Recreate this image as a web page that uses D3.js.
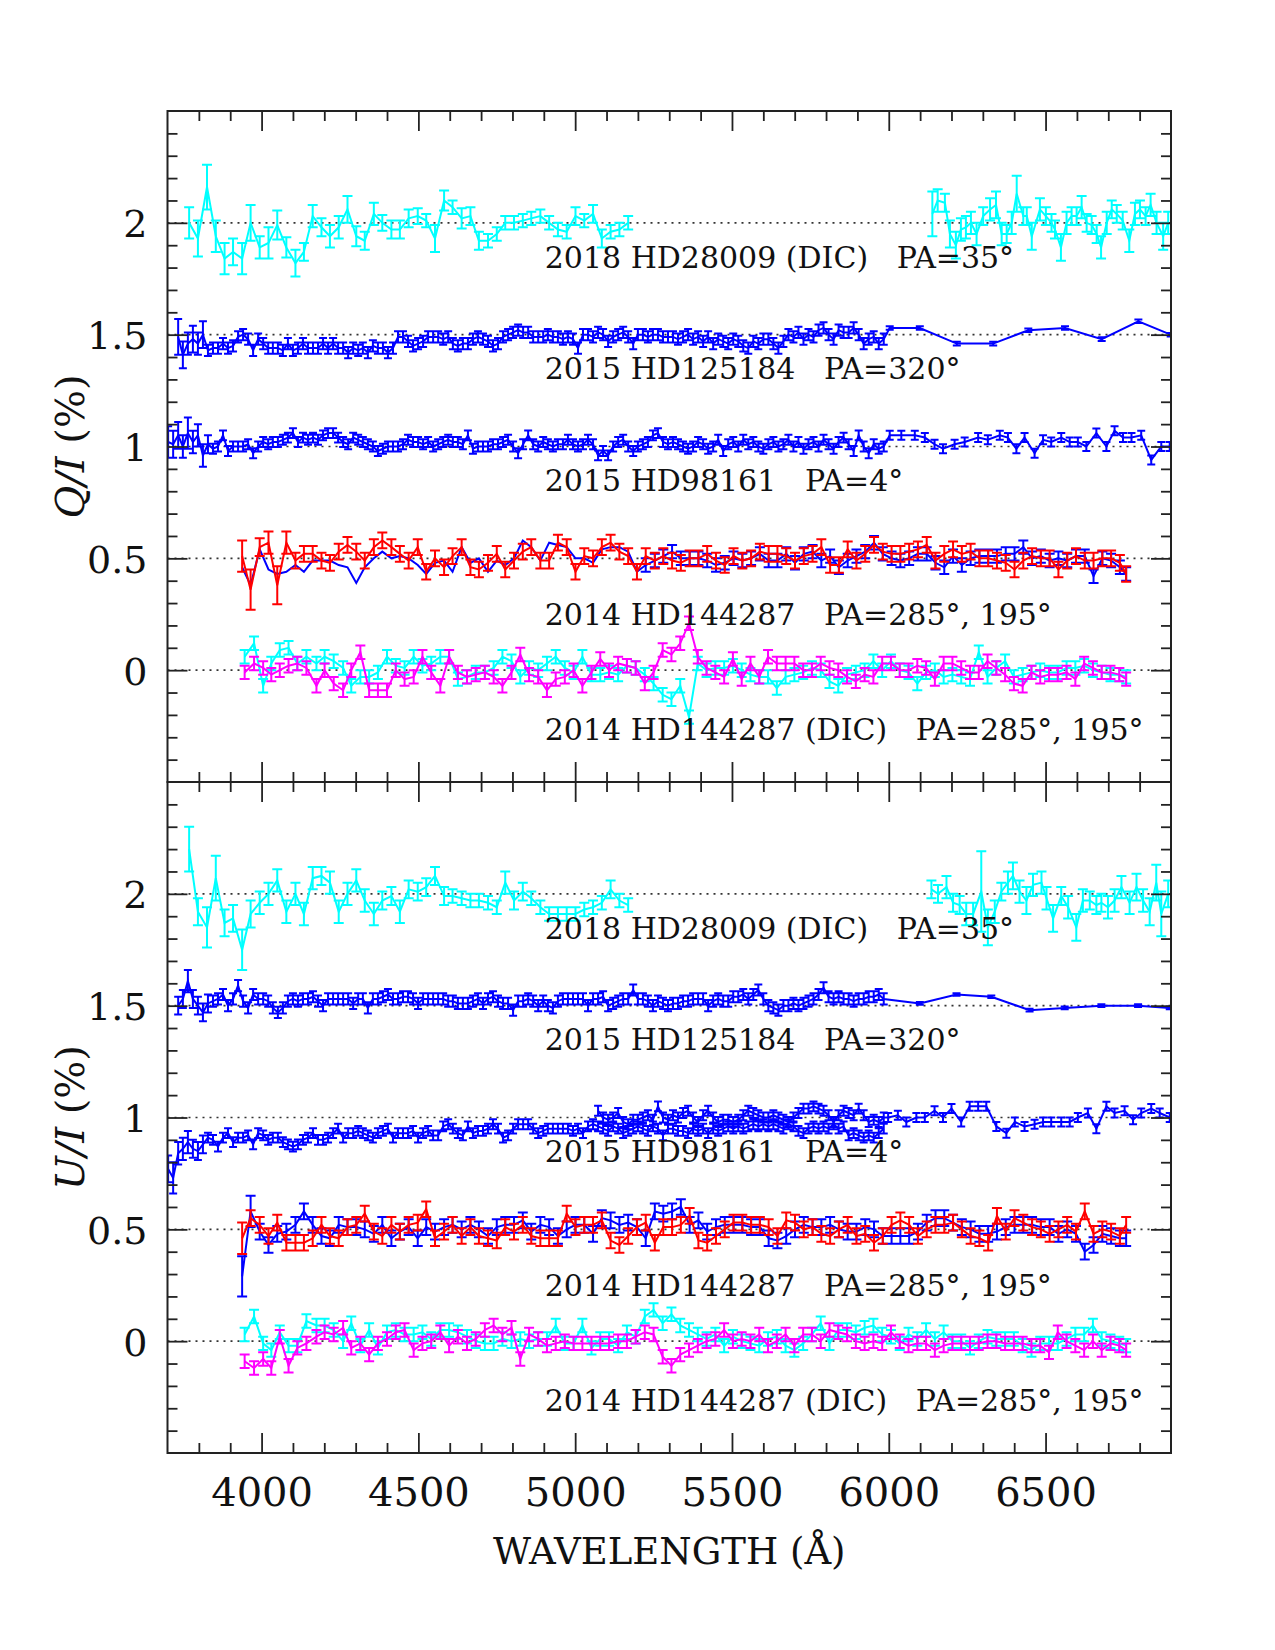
<!DOCTYPE html>
<html>
<head>
<meta charset="utf-8">
<script src="https://cdn.jsdelivr.net/npm/d3@7"></script>
<style>
  body { margin: 0; background: #fff; }
  #wrapper svg { display: block; }
  text { font-family: "DejaVu Serif", serif; fill: #111; white-space: pre; }
</style>
</head>
<body>
<div id="wrapper"></div>
<script>

// ---- wavelength grids (Angstrom) ----

const lamFine = [
  3702,3718,3734,3749,3765,3781,3797,3813,3829,3845,
  3861,3877,3893,3909,3925,3941,3957,3973,3989,4005,
  4021,4036,4052,4068,4084,4100,4116,4132,4148,4164,
  4180,4196,4212,4228,4244,4260,4276,4292,4308,4323,
  4339,4355,4371,4387,4403,4419,4435,4451,4467,4483,
  4499,4515,4531,4547,4563,4579,4595,4610,4626,4642,
  4658,4674,4690,4706,4722,4738,4754,4770,4786,4802,
  4818,4834,4850,4866,4882,4898,4913,4929,4945,4961,
  4977,4993,5009,5025,5041,5057,5073,5089,5105,5121,
  5137,5153,5169,5185,5200,5216,5232,5248,5264,5280,
  5296,5312,5328,5344,5360,5376,5392,5408,5424,5440,
  5456,5472,5488,5504,5520,5536,5552,5568,5584,5600,
  5616,5632,5648,5664,5680,5696,5712,5728,5744,5760,
  5776,5792,5808,5824,5840,5856,5872,5888,5904,5920,
  5936,5952,5968,5984]

const lamHD28009a = [
  3769,3797,3826,3854,3882,3909,3938,3965,3994,4022,
  4050,4079,4108,4135,4163,4191,4218,4246,4274,4302,
  4329,4358,4385,4414,4441,4469,4498,4525,4553,4582,
  4609,4638,4666,4693,4722,4750,4777,4805,4833,4860,
  4889,4917,4945,4973,5001,5029,5057,5085,5113,5141,
  5169]
const lamHD28009Qb = [
  6139,6156,6179,6195,6214,6230,6246,6262,6280,6301,
  6323,6342,6360,6376,6392,6408,6429,6440,6456,6482,
  6501,6519,6530,6549,6567,6583,6599,6615,6631,6647,
  6663,6677,6695,6711,6727,6746,6767,6785,6801,6819,
  6835,6854,6875,6891]
const lamHD28009Ub = [
  6136,6157,6184,6205,6226,6247,6269,6295,6316,6338,
  6359,6380,6396,6417,6439,6460,6487,6503,6524,6550,
  6572,6598,6619,6641,6662,6678,6699,6720,6742,6768,
  6790,6811,6832,6853,6869,6891]

const lamHD144287 = [
  3938,3965,3994,4022,4050,4079,4108,4135,4163,4191,
  4218,4246,4274,4302,4329,4358,4385,4414,4441,4469,
  4498,4525,4553,4582,4609,4638,4666,4693,4722,4750,
  4777,4805,4833,4860,4889,4917,4945,4973,5001,5029,
  5057,5085,5113,5141,5169,5197,5225,5254,5281,
  5309,5337,5365,5393,5421,5449,5477,5505,5533,5561,
  5589,5617,5645,5673,5701,5729,5757,5785,5813,5841,
  5869,5897,5925,5953,5981,6009,6037,6065,6093,6121,
  6149,6177,6205,6233,6261,6289,6317,6345,6373,6401,
  6429,6457,6485,6513,6541,6569,6597,6625,6653,6681,
  6709,6737,6757]

const lamDIC = [
  3946,3976,4005,4031,4058,4086,4114,4143,4175,4201,
  4230,4260,4286,4315,4343,4371,4400,4428,4456,4485,
  4513,4541,4570,4598,4626,4655,4683,4712,4740,4768,
  4797,4825,4853,4882,4910,4938,4967,4995,5023,5052,
  5080,5108,5137,5165,5193,5222,5250,5279,5307,5335,
  5363,5391,5419,5447,5475,5503,5531,5559,5587,5615,
  5643,5671,5699,5727,5755,5783,5811,5839,5867,5895,
  5923,5951,5979,6007,6035,6063,6091,6119,6147,6175,
  6203,6231,6259,6287,6315,6343,6371,6399,6427,6455,
  6483,6511,6539,6567,6595,6623,6651,6679,6707,6735,
  6757]

const lamHD125184Qs = [6003,6099,6217,6333,6445,6562,6679,6796,6899]
const lamHD125184Us = [6099,6216,6327,6449,6561,6678,6795,6896]
const lamHD98161Qs = [
  6003,6040,6083,6115,6146,6173,6210,6242,6285,6316,
  6354,6380,6407,6433,6465,6492,6518,6550,6577,6603,
  6630,6662,6694,6720,6747,6774,6805,6837,6869,6896]
const lamHD98161Us = [
  5998,6029,6056,6088,6115,6146,6173,6200,6231,6258,
  6285,6311,6343,6375,6402,6433,6465,6492,6518,6550,
  6577,6603,6635,6662,6694,6720,6752,6779,6805,6837,
  6864,6896]

// ---- Q/I (%) ----

const qHD28009a = [
  2.00,1.93,2.16,1.94,1.84,1.87,1.84,2.00,1.89,1.91,
  1.99,1.89,1.82,1.87,2.03,1.98,1.94,1.98,2.06,1.94,
  1.92,2.04,2.00,1.97,1.97,2.02,2.03,2.01,1.93,2.10,
  2.07,2.02,2.03,1.92,1.92,1.95,2.00,2.00,2.01,2.02,
  2.03,2.00,1.97,1.96,2.03,2.01,2.04,1.93,1.96,1.97,
  2.00]
const qErrHD28009a = [
  .07,.08,.10,.07,.07,.06,.07,.08,.05,.07,
  .065,.045,.06,.04,.05,.04,.05,.05,.06,.045,
  .04,.05,.035,.04,.04,.04,.035,.03,.06,.045,
  .03,.045,.04,.04,.03,.03,.03,.03,.03,.03,
  .03,.03,.03,.03,.04,.03,.04,.04,.03,.03,
  .03]
const qHD28009b = [
  2.04,2.10,2.09,1.95,1.90,1.97,1.98,2.00,1.95,2.03,
  2.06,2.08,1.95,1.95,2.00,2.13,2.03,2.03,1.94,2.06,
  2.03,2.00,1.97,1.89,2.00,2.03,2.03,2.07,2.00,1.99,
  1.95,1.89,2.00,2.06,2.04,2.01,1.92,2.04,2.06,2.03,
  2.08,2.00,1.94,2.00]
const qErrHD28009b = [
  .10,.05,.04,.06,.06,.05,.05,.05,.05,.04,
  .05,.06,.05,.04,.05,.08,.04,.04,.06,.05,
  .04,.04,.04,.06,.05,.04,.04,.05,.04,.04,
  .04,.05,.05,.04,.04,.04,.05,.05,.04,.04,
  .05,.05,.06,.05]

const qHD125184 = [
  null,null,
  1.49,1.41,1.46,1.48,1.46,1.50,1.43,1.44,1.44,1.46,
  1.44,1.45,1.49,1.50,1.48,1.43,1.48,1.46,1.44,1.44,
  1.44,1.43,1.46,1.43,1.44,1.46,1.44,1.44,1.44,1.46,
  1.44,1.46,1.44,1.44,1.42,1.44,1.43,1.44,1.42,1.45,
  1.44,1.44,1.42,1.44,1.49,1.49,1.47,1.45,1.46,1.47,
  1.49,1.49,1.49,1.48,1.49,1.46,1.45,1.46,1.46,1.48,
  1.49,1.48,1.47,1.45,1.46,1.49,1.50,1.51,1.52,1.51,
  1.51,1.49,1.49,1.49,1.50,1.49,1.49,1.48,1.49,1.48,
  1.44,1.50,1.50,1.49,1.51,1.50,1.47,1.49,1.50,1.51,
  1.49,1.46,1.50,1.50,1.49,1.50,1.50,1.49,
  1.49,
  1.49,1.48,1.49,1.50,1.48,1.49,1.47,1.49,1.46,1.48,
  1.47,1.46,1.48,1.47,1.45,1.44,1.47,1.46,1.48,1.48,
  1.46,1.44,1.47,1.50,1.49,1.51,1.48,1.50,1.49,1.52,
  1.53,1.50,1.48,1.52,1.51,1.51,1.53,1.50,1.46,1.48,
  1.49,1.46,1.48]
const qHD125184s = [1.53,1.53,1.46,1.46,1.52,1.53,1.48,1.56,1.50]

const qHD98161 = [
  1.02,1.01,1.05,1.00,1.06,1.02,1.05,0.96,1.01,0.99,
  1.00,1.05,0.98,1.00,1.00,1.00,1.01,0.97,1.00,1.02,
  1.01,1.02,1.02,1.03,1.04,1.06,1.02,1.04,1.03,1.04,
  1.03,1.05,1.06,1.06,1.04,1.02,1.01,1.04,1.03,1.02,
  1.01,1.00,0.98,0.99,1.00,1.00,1.00,1.01,1.03,1.02,
  1.02,1.01,1.02,1.00,1.01,1.02,1.03,1.02,1.02,1.01,
  1.05,0.99,1.00,1.00,1.00,1.01,1.01,1.02,1.03,1.00,
  0.97,1.01,1.05,1.01,1.00,1.02,1.01,1.00,1.01,1.01,
  1.03,1.01,1.00,1.01,1.03,1.01,0.96,0.98,0.96,1.00,
  1.02,1.03,1.00,0.98,1.00,1.01,1.02,1.05,1.06,1.02,
  1.01,
  1.02,1.01,1.00,0.99,1.00,1.02,1.01,0.99,1.00,1.03,
  0.98,1.01,1.02,1.00,1.03,1.01,1.02,1.00,0.99,1.01,
  1.02,1.00,1.01,1.03,1.00,1.02,0.99,1.01,1.02,1.00,
  1.03,1.01,0.99,1.02,1.04,1.01,0.98,1.05,1.00,0.97,
  1.01,0.99,1.00]
const qHD98161s = [
  1.05,1.05,1.05,1.04,1.01,0.99,1.01,1.02,1.04,1.03,
  1.05,1.04,0.99,1.04,0.97,1.03,1.02,1.04,1.02,1.02,
  1.00,1.06,1.00,1.07,1.04,1.04,1.05,0.94,1.00,1.00]

const qHD144287red = [
  0.51,0.36,0.55,0.57,0.38,0.57,0.49,0.52,0.52,0.49,
  0.48,0.53,0.56,0.53,0.49,0.55,0.58,0.55,0.52,0.49,
  0.55,0.44,0.50,0.46,0.51,0.55,0.46,0.45,0.48,0.52,
  0.45,0.49,0.53,0.55,0.49,0.49,0.57,0.55,0.44,0.51,
  0.50,0.55,0.57,0.53,0.51,0.44,0.51,0.49,0.51,
  0.49,0.48,0.50,0.50,0.52,0.49,0.47,0.51,0.49,0.50,
  0.53,0.52,0.52,0.51,0.49,0.51,0.52,0.55,0.47,0.47,
  0.54,0.49,0.52,0.56,0.53,0.52,0.52,0.53,0.54,0.56,
  0.49,0.52,0.54,0.52,0.53,0.50,0.50,0.49,0.48,0.45,
  0.49,0.51,0.50,0.50,0.45,0.49,0.51,0.49,0.49,0.50,
  0.50,0.48,0.43]
const qHD144287blue = [
  0.46,0.38,0.54,0.45,0.43,0.44,0.47,0.44,0.49,0.49,
  0.49,0.47,0.46,0.39,0.46,0.50,0.53,0.50,0.51,0.50,
  0.47,0.43,0.48,0.49,0.44,0.55,0.48,0.50,0.44,0.49,
  0.47,0.50,0.58,0.55,0.49,0.57,0.56,0.55,0.50,0.50,
  0.48,0.54,0.55,0.55,0.53,0.44,0.47,0.49,0.51,
  0.53,0.50,0.50,0.50,0.49,0.47,0.48,0.50,0.49,0.50,
  0.52,0.49,0.49,0.52,0.48,0.52,0.53,0.49,0.51,0.46,
  0.49,0.51,0.53,0.57,0.52,0.50,0.49,0.50,0.52,0.52,
  0.48,0.46,0.51,0.47,0.50,0.51,0.51,0.51,0.52,0.52,
  0.55,0.50,0.51,0.49,0.50,0.49,0.51,0.51,0.42,0.50,
  0.49,0.46,0.43]

const qDICcyan = [
  0.06,0.12,-0.07,0.03,0.09,0.10,0.03,0.06,0.03,0.06,
  0.04,0.01,-0.07,-0.03,-0.03,-0.01,0.06,0.02,0.01,0.06,
  0.02,0.03,0.06,0.06,-0.04,-0.03,-0.01,-0.01,0.01,0.06,
  0.04,-0.03,0.01,0.00,0.03,0.06,0.01,-0.01,0.06,-0.02,
  -0.02,-0.01,-0.02,0.02,0.01,-0.02,-0.06,-0.11,-0.13,-0.07,
  -0.21,0.03,0.00,0.01,0.01,0.02,0.00,-0.02,-0.03,-0.03,
  -0.08,-0.03,-0.02,-0.01,0.01,0.00,-0.05,-0.07,-0.02,-0.01,
  0.00,0.04,0.00,0.04,0.00,-0.01,-0.06,-0.01,0.00,-0.03,
  -0.02,-0.03,-0.04,0.08,-0.03,0.01,0.04,-0.03,-0.02,-0.01,
  0.00,-0.01,-0.01,0.01,0.01,0.02,0.00,-0.01,-0.02,-0.02,
  -0.03]
const qDICmagenta = [
  -0.01,0.03,0.01,-0.02,0.00,0.02,0.03,0.01,-0.07,0.00,
  -0.06,-0.09,0.00,0.08,-0.09,-0.09,-0.09,0.00,-0.04,-0.03,
  0.06,-0.01,-0.07,0.06,-0.01,-0.03,-0.02,-0.01,-0.03,-0.07,
  -0.01,0.07,-0.02,-0.03,-0.09,-0.04,-0.03,0.00,-0.07,-0.01,
  0.05,0.00,0.03,0.02,0.01,-0.06,-0.01,0.09,0.07,0.12,
  0.21,0.06,0.01,-0.01,-0.03,0.05,-0.04,0.03,-0.03,0.06,
  0.03,0.03,0.03,0.00,0.00,0.03,0.01,0.00,-0.03,-0.05,
  -0.02,-0.03,0.03,0.03,0.00,0.00,0.02,0.01,-0.04,0.03,
  0.03,0.01,-0.01,-0.01,0.04,0.01,-0.02,-0.06,-0.07,-0.01,
  -0.03,-0.02,-0.02,-0.01,-0.04,0.03,0.01,-0.01,-0.01,-0.02,
  -0.04]

// ---- U/I (%) ----

const uHD28009a = [
  2.20,1.92,1.85,2.07,1.87,1.89,1.75,1.91,1.96,2.00,
  2.06,1.92,2.00,1.91,2.07,2.08,2.05,1.92,2.00,2.06,
  1.97,1.91,1.97,1.99,1.92,2.02,2.01,2.03,2.08,1.99,
  1.99,1.98,1.97,1.97,1.96,1.94,2.05,1.97,2.01,1.98,
  1.94,1.91,1.91,1.91,1.91,1.93,1.94,1.96,2.02,1.97,
  1.95]
const uErrHD28009a = [
  .10,.06,.09,.10,.06,.06,.09,.06,.05,.05,
  .05,.05,.05,.05,.05,.04,.05,.05,.05,.05,
  .05,.05,.04,.04,.05,.04,.04,.04,.04,.04,
  .03,.03,.03,.03,.03,.03,.05,.04,.04,.03,
  .03,.03,.03,.03,.03,.03,.03,.03,.04,.03,
  .03]
const uHD28009b = [
  2.02,2.00,2.03,1.96,1.95,1.91,1.91,2.01,1.85,1.92,
  2.01,2.05,2.08,2.01,1.97,2.04,2.05,1.98,1.89,1.99,
  1.94,1.85,1.97,1.97,1.95,1.96,1.94,1.97,2.03,1.96,
  2.03,1.97,1.92,2.05,1.91,2.00]
const uErrHD28009b = [
  .04,.04,.05,.04,.04,.05,.05,.18,.08,.05,
  .04,.05,.06,.05,.06,.05,.05,.05,.06,.04,
  .05,.06,.05,.04,.04,.04,.05,.05,.05,.05,
  .06,.05,.06,.08,.10,.06]

const uHD125184 = [
  null,null,
  1.50,1.53,1.61,1.53,1.50,1.47,1.51,1.52,1.53,1.55,
  1.50,1.53,1.59,1.52,1.49,1.55,1.53,1.53,1.52,1.49,
  1.47,1.49,1.52,1.53,1.52,1.53,1.53,1.54,1.52,1.50,
  1.53,1.53,1.53,1.53,1.53,1.51,1.53,1.53,1.49,1.53,
  1.53,1.54,1.55,1.53,1.53,1.54,1.54,1.53,1.51,1.53,
  1.53,1.53,1.53,1.53,1.52,1.52,1.51,1.51,1.51,1.52,
  1.53,1.51,1.53,1.54,1.52,1.51,1.51,1.48,1.52,1.52,
  1.53,1.52,1.50,1.52,1.50,1.49,1.52,1.53,1.53,1.53,
  1.53,1.53,1.50,1.53,1.53,1.54,1.50,1.51,1.52,1.53,
  1.53,1.57,1.53,1.53,1.52,1.50,1.52,1.51,
  1.50,1.51,1.51,1.52,1.52,1.53,1.53,1.53,1.50,1.52,
  1.53,1.52,1.52,1.54,1.54,1.55,1.53,1.55,1.57,1.53,
  1.50,1.49,1.48,1.50,1.50,1.51,1.50,1.51,1.52,1.53,
  1.55,1.58,1.54,1.53,1.54,1.53,1.53,1.52,1.53,1.53,
  1.54,1.54,1.55,1.53]
const uHD125184s = [1.51,1.55,1.54,1.48,1.49,1.50,1.50,1.49]

const uHD98161 = [
  0.77,0.73,0.84,0.86,0.89,0.86,0.85,0.88,0.91,0.90,
  0.87,0.91,0.93,0.89,0.91,0.91,0.92,0.88,0.93,0.92,
  0.90,0.91,0.91,0.89,0.88,0.87,0.88,0.90,0.91,0.93,
  0.90,0.90,0.91,0.93,0.95,0.91,0.93,0.93,0.94,0.93,
  0.92,0.91,0.93,0.94,0.95,0.91,0.93,0.93,0.93,0.94,
  0.91,0.93,0.94,0.92,0.92,0.96,0.97,0.95,0.93,0.92,
  0.96,0.93,0.94,0.94,0.95,0.97,0.95,0.91,0.92,0.95,
  0.97,0.97,0.97,0.95,0.93,0.94,0.95,0.95,0.95,0.95,
  0.95,0.94,0.95,0.93,0.96,0.97,0.96,0.95,0.94,0.96,
  0.95,0.93,0.94,0.95,0.96,0.95,0.94,0.96,0.95,0.92,
  0.95,0.95,0.94,0.94,0.93,0.95,0.94,0.95,0.93,0.95,
  0.94,0.95,0.96,0.95,0.96,0.95,0.96,0.97,0.96,0.97,
  0.96,0.97,0.96,0.95,0.97,0.96,0.94,0.93,0.95,0.96,
  0.95,0.96,0.95,0.97,0.95,0.96,0.92,0.93,0.92,0.91,
  0.92,0.91,0.93,0.95]
// second (upper) set of HD98161 bins, starting at lamFine[86]
const uHD98161b = [
  1.03,1.00,0.99,1.00,1.02,0.98,0.97,0.99,0.99,1.00,
  1.01,0.99,1.05,1.00,0.99,
  1.01,1.00,1.02,1.03,1.00,0.98,1.01,1.03,1.00,0.98,
  0.99,0.99,0.98,0.99,1.01,1.03,1.02,1.01,1.00,1.00,
  1.01,1.00,0.99,0.98,1.00,1.02,1.04,1.04,1.05,1.04,
  1.03,1.01,0.98,1.01,1.03,1.02,1.01,1.04,1.01,0.98,
  0.99,0.98,1.00]
const uHD98161s = [
  1.00,1.01,0.98,1.00,1.00,1.03,1.00,1.04,0.98,1.05,
  1.05,1.05,0.96,0.93,0.98,0.96,0.97,0.98,0.98,0.98,
  0.98,1.00,1.02,0.95,1.05,1.02,1.03,0.99,1.02,1.04,
  1.02,1.00]

const uHD144287red = [
  0.46,0.55,0.52,0.47,0.53,0.44,0.44,0.44,0.46,0.52,
  0.47,0.46,0.51,0.52,0.57,0.49,0.47,0.52,0.49,0.52,
  0.53,0.59,0.46,0.49,0.52,0.47,0.51,0.47,0.46,0.45,
  0.51,0.49,0.52,0.47,0.46,0.46,0.46,0.57,0.51,0.52,
  0.52,0.54,0.45,0.43,0.47,0.51,0.53,0.44,0.51,
  0.51,0.52,0.56,0.45,0.44,0.47,0.50,0.53,0.53,0.52,
  0.52,0.51,0.47,0.54,0.53,0.50,0.51,0.48,0.47,0.50,
  0.52,0.47,0.48,0.44,0.47,0.52,0.54,0.52,0.47,0.50,
  0.52,0.52,0.53,0.50,0.47,0.46,0.44,0.56,0.49,0.55,
  0.53,0.51,0.50,0.48,0.50,0.52,0.49,0.58,0.48,0.50,
  0.49,0.47,0.52]
const uHD144287blue = [
  0.29,0.58,0.49,0.43,0.48,0.49,0.52,0.58,0.52,0.47,
  0.46,0.52,0.51,0.51,0.50,0.48,0.52,0.46,0.49,0.51,
  0.46,0.51,0.49,0.51,0.52,0.50,0.52,0.50,0.47,0.51,
  0.52,0.52,0.54,0.49,0.52,0.51,0.47,0.50,0.52,0.52,
  0.48,0.55,0.54,0.52,0.53,0.51,0.46,0.58,0.57,
  0.58,0.60,0.52,0.54,0.49,0.51,0.52,0.52,0.52,0.51,
  0.51,0.46,0.45,0.47,0.50,0.52,0.51,0.51,0.52,0.50,
  0.49,0.49,0.51,0.50,0.47,0.47,0.47,0.47,0.49,0.53,
  0.55,0.55,0.53,0.51,0.50,0.48,0.48,0.49,0.51,0.52,
  0.52,0.52,0.51,0.51,0.48,0.50,0.48,0.40,0.43,0.48,
  0.47,0.46,0.46]

const uDICcyan = [
  0.03,0.11,-0.01,-0.04,0.04,-0.02,-0.02,0.09,0.07,0.07,
  0.05,0.00,0.08,-0.02,0.05,-0.03,0.04,0.05,0.03,0.03,
  0.04,0.01,0.05,0.05,0.04,0.02,0.00,-0.01,-0.01,0.01,
  0.00,0.01,0.00,0.01,0.01,0.07,-0.01,-0.01,0.07,-0.03,
  0.01,0.01,-0.02,0.04,0.02,0.11,0.14,0.08,0.12,0.07,
  0.05,0.03,0.01,0.03,-0.02,0.02,0.00,-0.01,-0.02,0.01,
  0.02,-0.02,-0.04,-0.01,0.03,0.08,-0.01,0.05,0.05,0.04,
  0.06,0.07,0.03,0.02,-0.01,0.03,0.01,0.05,0.01,0.04,
  0.00,0.00,-0.03,0.00,0.02,0.01,0.01,0.01,-0.02,-0.04,
  -0.01,-0.01,-0.01,0.01,0.03,0.03,0.07,0.01,0.00,-0.01,
  -0.02]
const uDICmagenta = [
  -0.09,-0.12,-0.08,-0.12,0.02,-0.11,-0.03,-0.01,0.02,0.04,
  0.03,0.06,-0.03,-0.01,-0.06,-0.01,0.01,0.04,0.05,-0.04,
  -0.01,0.00,0.04,-0.02,0.02,-0.01,0.01,0.05,0.07,0.03,
  0.06,-0.08,0.03,0.01,-0.02,-0.01,0.00,-0.01,-0.01,-0.01,
  -0.01,-0.01,0.00,0.00,0.02,0.04,0.03,-0.07,-0.11,-0.06,
  -0.04,-0.02,0.00,0.01,0.05,0.00,0.01,0.00,0.03,-0.02,
  0.00,0.03,-0.02,0.03,0.03,0.00,0.05,0.04,0.03,0.00,
  -0.01,0.00,-0.01,0.04,0.00,-0.02,-0.01,-0.01,-0.04,-0.02,
  -0.01,-0.01,-0.01,-0.01,0.00,0.00,-0.01,-0.01,-0.01,-0.02,
  -0.02,-0.05,0.04,0.00,-0.02,-0.04,0.00,-0.04,-0.01,-0.02,
  -0.04]

const refLevels = [0, 0.5, 1, 1.5, 2]
const yTickLabels = [0, 0.5, 1, 1.5, 2]
const xTickLabels = [4000, 4500, 5000, 5500, 6000, 6500]
const starLabels = [
  "2018 HD28009 (DIC)   PA=35°",
  "2015 HD125184   PA=320°",
  "2015 HD98161   PA=4°",
  "2014 HD144287   PA=285°, 195°",
  "2014 HD144287 (DIC)   PA=285°, 195°",
]

const CYAN = "#00ffff", BLUE = "#0000ff", RED = "#ff0000", MAGENTA = "#ff00ff"

const qSeries = [
  { color: CYAN, cap: 5, segs: [
      { lam: lamHD28009a, val: qHD28009a, err: qErrHD28009a },
      { lam: lamHD28009Qb, val: qHD28009b, err: qErrHD28009b } ] },
  { color: BLUE, cap: 4, segs: [
      { lam: lamFine, val: qHD125184, err: 0.025, lead: [null,null,.08,.06,.05,.06,.05,.06] },
      { lam: lamHD125184Qs, val: qHD125184s, err: 0.008 } ] },
  { color: BLUE, cap: 4, segs: [
      { lam: lamFine, val: qHD98161, err: 0.022, lead: [.07,.06,.06,.05,.07,.05,.05,.05,.04] },
      { lam: lamHD98161Qs, val: qHD98161s, err: 0.02 } ] },
  { color: BLUE, cap: 5, noErrBelow: 5200, segs: [
      { lam: lamHD144287, val: qHD144287blue, err: 0.03 } ] },
  { color: RED, cap: 5, segs: [
      { lam: lamHD144287, val: qHD144287red, err: 0.035, lead: [.07,.09,.04,.05,.085,.05] } ] },
  { color: CYAN, cap: 5, segs: [
      { lam: lamDIC, val: qDICcyan, err: 0.03 } ] },
  { color: MAGENTA, cap: 5, segs: [
      { lam: lamDIC, val: qDICmagenta, err: 0.03 } ] },
]

const uSeries = [
  { color: CYAN, cap: 5, segs: [
      { lam: lamHD28009a, val: uHD28009a, err: uErrHD28009a },
      { lam: lamHD28009Ub, val: uHD28009b, err: uErrHD28009b } ] },
  { color: BLUE, cap: 4, segs: [
      { lam: lamFine, val: uHD125184, err: 0.025, lead: [null,null,.04,.04,.05,.04,.04,.04,.04] },
      { lam: lamHD125184Us, val: uHD125184s, err: 0.006 } ] },
  { color: BLUE, cap: 4, segs: [
      { lam: lamFine, val: uHD98161, err: 0.022, lead: [.06,.07,.05,.05,.05,.04,.04,.04] } ] },
  { color: BLUE, cap: 4, segs: [
      { lam: lamFine, val: uHD98161b, err: 0.022, offset: 86 },
      { lam: lamHD98161Us, val: uHD98161s, err: 0.02 } ] },
  { color: BLUE, cap: 5, segs: [
      { lam: lamHD144287, val: uHD144287blue, err: 0.035, lead: [.09,.07] } ] },
  { color: RED, cap: 5, segs: [
      { lam: lamHD144287, val: uHD144287red, err: 0.035, lead: [.07] } ] },
  { color: CYAN, cap: 5, segs: [
      { lam: lamDIC, val: uDICcyan, err: 0.03 } ] },
  { color: MAGENTA, cap: 5, segs: [
      { lam: lamDIC, val: uDICmagenta, err: 0.03 } ] },
]

function buildPoints(series) {
  const pts = []
  series.segs.forEach(seg => {
    const off = seg.offset || 0
    seg.val.forEach((v, i) => {
      if (v === null) return
      const lam = seg.lam[i + off]
      let e = Array.isArray(seg.err) ? seg.err[i] : seg.err
      if (seg.lead && seg.lead[i] != null) e = seg.lead[i]
      if (series.noErrBelow && lam < series.noErrBelow) e = 0
      const prev = pts[pts.length - 1]
      if (prev && prev.lam && lam - prev.lam > 500) pts.push(null)   // break the line over data gaps
      pts.push({ lam, v, e })
    })
  })
  return pts
}

function drawChart() {

  // 1. Chart dimensions

  let dimensions = {
    width: 1275,
    height: 1650,
    left: 167.5,
    right: 1171,
    panelHeight: 671,
  }
  const panelTops = [111, 782]

  // 2. Draw canvas

  const wrapper = d3.select("#wrapper")
    .append("svg")
    .attr("width", dimensions.width)
    .attr("height", dimensions.height)
    .style("background", "#fff")

  // 3. Scales

  const xScale = d3.scaleLinear()
    .domain([3700, 6900])
    .range([dimensions.left, dimensions.right])

  const yScale = d3.scaleLinear()
    .domain([-0.5, 2.5])
    .range([dimensions.panelHeight, 0])

  const lineGen = d3.line()
    .defined(d => d !== null)
    .x(d => xScale(d.lam))
    .y(d => yScale(d.v))

  const panels = [
    { top: panelTops[0], series: qSeries, title: "Q", id: "clipQ", xLabels: false },
    { top: panelTops[1], series: uSeries, title: "U", id: "clipU", xLabels: true },
  ]

  const frameW = dimensions.right - dimensions.left
  const xMinor = d3.range(38, 69).map(d => d * 100).filter(d => d % 500 !== 0)
  const yMinor = d3.range(-4, 25).map(d => d / 10).filter(d => Math.round(d * 10) % 5 !== 0)
  const yMajor = [0, 0.5, 1, 1.5, 2]

  panels.forEach(panel => {
    const g = wrapper.append("g")
      .attr("transform", `translate(0, ${panel.top})`)

    g.append("clipPath").attr("id", panel.id)
      .append("rect")
      .attr("x", dimensions.left).attr("y", 0)
      .attr("width", frameW).attr("height", dimensions.panelHeight)

    // dotted reference levels
    g.selectAll(".ref")
      .data(refLevels)
      .join("line")
      .attr("class", "ref")
      .attr("x1", dimensions.left)
      .attr("x2", dimensions.right)
      .attr("y1", d => yScale(d))
      .attr("y2", d => yScale(d))
      .attr("stroke", "#333")
      .attr("stroke-width", 1.7)
      .attr("stroke-dasharray", "2,5")

    // data
    const dataG = g.append("g").attr("clip-path", `url(#${panel.id})`)
    panel.series.forEach(s => {
      const pts = buildPoints(s)
      dataG.append("path")
        .attr("d", lineGen(pts))
        .attr("fill", "none")
        .attr("stroke", s.color)
        .attr("stroke-width", 2)
        .attr("stroke-linejoin", "miter")

      const p = d3.path()
      pts.forEach(d => {
        if (!d || !(d.e > 0)) return
        const x = xScale(d.lam)
        const y1 = yScale(d.v - d.e)
        const y2 = yScale(d.v + d.e)
        p.moveTo(x, y1); p.lineTo(x, y2)
        p.moveTo(x - s.cap, y1); p.lineTo(x + s.cap, y1)
        p.moveTo(x - s.cap, y2); p.lineTo(x + s.cap, y2)
      })
      dataG.append("path")
        .attr("d", p.toString())
        .attr("fill", "none")
        .attr("stroke", s.color)
        .attr("stroke-width", 2)
    })

    // star labels
    const labelLevels = [1.80, 1.30, 0.80, 0.20, -0.31]
    g.selectAll(".star")
      .data(starLabels)
      .join("text")
      .attr("class", "star")
      .attr("x", xScale(4903))
      .attr("y", (d, i) => yScale(labelLevels[i]))
      .attr("font-size", 30)
      .text(d => d)

    // frame
    g.append("rect")
      .attr("x", dimensions.left)
      .attr("y", 0)
      .attr("width", frameW)
      .attr("height", dimensions.panelHeight)
      .attr("fill", "none")
      .attr("stroke", "#222")
      .attr("stroke-width", 2)

    // inward ticks on all four sides
    const tickStyle = sel => {
      sel.select(".domain").remove()
      sel.attr("color", "#222")
        .attr("font-family", "DejaVu Serif")
        .attr("font-size", 38)
      sel.selectAll(".tick line").attr("stroke-width", 1.8)
    }
    const bottomY = dimensions.panelHeight
    g.append("g").call(d3.axisTop(xScale).tickValues(xMinor).tickSize(-10).tickFormat("")).call(tickStyle)
    g.append("g").call(d3.axisTop(xScale).tickValues(xTickLabels).tickSize(-20).tickFormat("")).call(tickStyle)
    g.append("g").attr("transform", `translate(0, ${bottomY})`)
      .call(d3.axisBottom(xScale).tickValues(xMinor).tickSize(-10).tickFormat("")).call(tickStyle)
    const xAx = g.append("g").attr("transform", `translate(0, ${bottomY})`)
      .call(d3.axisBottom(xScale).tickValues(xTickLabels).tickSize(-20).tickPadding(25)
        .tickFormat(panel.xLabels ? (d => String(d)) : ""))
      .call(tickStyle)
    xAx.attr("font-size", 40)

    g.append("g").attr("transform", `translate(${dimensions.left}, 0)`)
      .call(d3.axisLeft(yScale).tickValues(yMinor).tickSize(-10).tickFormat("")).call(tickStyle)
    const yAx = g.append("g").attr("transform", `translate(${dimensions.left}, 0)`)
      .call(d3.axisLeft(yScale).tickValues(yTickLabels).tickSize(-20).tickPadding(20).tickFormat(d => String(d)))
      .call(tickStyle)
    yAx.selectAll(".tick text").attr("dy", "0.37em")
    g.append("g").attr("transform", `translate(${dimensions.right}, 0)`)
      .call(d3.axisRight(yScale).tickValues(yMinor).tickSize(-10).tickFormat("")).call(tickStyle)
    g.append("g").attr("transform", `translate(${dimensions.right}, 0)`)
      .call(d3.axisRight(yScale).tickValues(yMajor).tickSize(-20).tickFormat("")).call(tickStyle)

    // y title
    const t = g.append("text")
      .attr("transform", `translate(84, ${dimensions.panelHeight / 2}) rotate(-90)`)
      .attr("text-anchor", "middle")
      .attr("font-size", 40)
    t.append("tspan").attr("font-style", "italic").text(panel.title + "/I")
    t.append("tspan").text(" (%)")
  })

  // x title
  wrapper.append("text")
    .attr("x", (dimensions.left + dimensions.right) / 2)
    .attr("y", 1564)
    .attr("text-anchor", "middle")
    .attr("font-size", 37)
    .text("WAVELENGTH (Å)")
}
drawChart()
</script>
</body>
</html>
